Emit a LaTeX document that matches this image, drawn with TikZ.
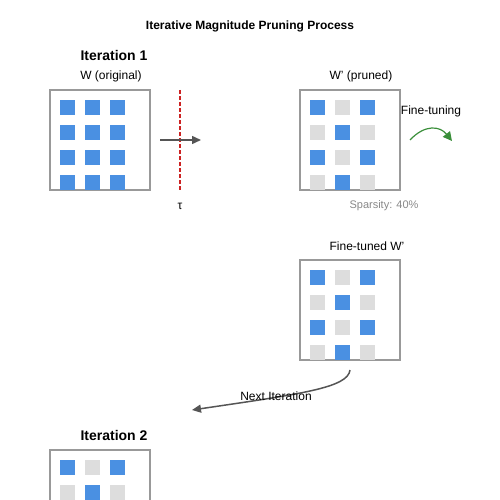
\documentclass[tikz,border=0pt]{standalone}
\usepackage{fontspec}
\setmainfont{Liberation Sans}
\usetikzlibrary{arrows.meta}
\definecolor{wblue}{HTML}{4A90E2}
\definecolor{wgray}{HTML}{DDDDDD}
\definecolor{frame}{HTML}{999999}
\definecolor{arr}{HTML}{555555}
\definecolor{redl}{HTML}{CC2222}
\definecolor{greenl}{HTML}{3A8F3A}
\definecolor{sparse}{HTML}{888888}
\begin{document}
\begin{tikzpicture}[x=1pt,y=-1pt,
  lbl/.style={font=\fontsize{12}{14}\selectfont, inner sep=0pt, anchor=center},
  itl/.style={font=\fontsize{14}{16}\selectfont\bfseries, inner sep=0pt, anchor=center},
  mbox/.style={draw=frame, line width=1.5pt, fill=white, minimum width=100pt, minimum height=100pt, inner sep=0pt, outer sep=0pt, anchor=north west},
  cell/.style={minimum size=15pt, inner sep=0pt, outer sep=0pt, anchor=north west, draw=none}]
\useasboundingbox (0,0) rectangle (500,500);
\clip (0,0) rectangle (500,500);
\node[font=\fontsize{12}{14}\selectfont\bfseries, inner sep=0pt] (title) at (250,26) {Iterative Magnitude Pruning Process};
% Iteration 1
\node[itl] (it1) at (114,55) {Iteration 1};
\node[lbl] (lw) at (111,76) {W (original)};
\node[mbox] (m1) at (50,90) {};
\foreach \r in {0,...,3} \foreach \c in {0,1,2}
  \node[cell, fill=wblue] (a\r\c) at (60+25*\c,100+25*\r) {};
% threshold
\coordinate (t1) at (180,90);
\coordinate (t2) at (180,190);
\draw[redl, line width=1.5pt, dash pattern=on 4pt off 2pt] (t1) -- (t2);
\node[lbl] (tau) at (180,206) {τ};
\coordinate (p1) at (160,140);
\coordinate (p2) at (201,140);
\draw[arr, line width=1.5pt, -{Triangle[length=9pt,width=8pt]}] (p1) -- (p2);
% pruned
\node[lbl] (lp) at (361,76) {W' (pruned)};
\node[mbox] (m2) at (300,90) {};
\foreach \r in {0,...,3} \foreach \c in {0,1,2} {
  \pgfmathtruncatemacro{\k}{mod(\r+\c,2)}
  \ifnum\k=0 \def\cc{wblue}\else\def\cc{wgray}\fi
  \node[cell, fill=\cc] (b\r\c) at (310+25*\c,100+25*\r) {};
}
\node[lbl, font=\fontsize{11}{13}\selectfont, text=sparse] (sp) at (384,206) {Sparsity: 40\%};
\node[lbl] (ft) at (431,111) {Fine-tuning};
\coordinate (g1) at (410,140);
\coordinate (g2) at (452,141);
\draw[greenl, line width=1.2pt, -{Triangle[length=9pt,width=9pt]}] (g1) .. controls (425,124) and (440,126) .. (g2);
% fine-tuned
\node[lbl] (lf) at (367,246) {Fine-tuned W'};
\node[mbox] (m3) at (300,260) {};
\foreach \r in {0,...,3} \foreach \c in {0,1,2} {
  \pgfmathtruncatemacro{\k}{mod(\r+\c,2)}
  \ifnum\k=0 \def\cc{wblue}\else\def\cc{wgray}\fi
  \node[cell, fill=\cc] (c\r\c) at (310+25*\c,270+25*\r) {};
}
\coordinate (n1) at (350,370);
\coordinate (n2) at (192,410);
\draw[arr, line width=1.5pt, -{Triangle[length=9pt,width=8pt]}] (n1) .. controls (348,388) and (300,394) .. (n2);
\node[lbl] (ni) at (276,396) {Next Iteration};
% Iteration 2
\node[itl] (it2) at (114,435) {Iteration 2};
\node[mbox] (m4) at (50,450) {};
\foreach \r in {0,...,3} \foreach \c in {0,1,2} {
  \pgfmathtruncatemacro{\k}{mod(\r+\c,2)}
  \ifnum\k=0 \def\cc{wblue}\else\def\cc{wgray}\fi
  \node[cell, fill=\cc] (d\r\c) at (60+25*\c,460+25*\r) {};
}
\end{tikzpicture}
\end{document}
